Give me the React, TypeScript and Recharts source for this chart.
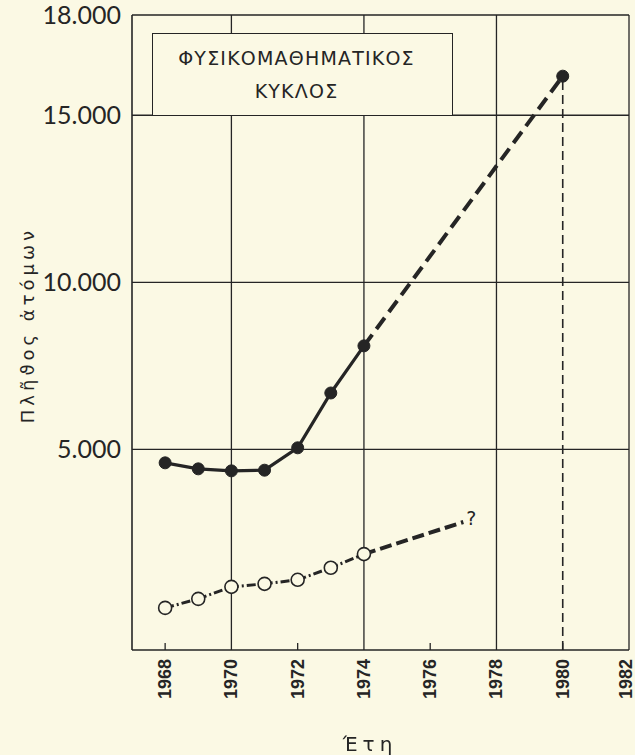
import { ComposedChart, Line, XAxis, YAxis, ReferenceLine } from "recharts";

const years = [1968, 1969, 1970, 1971, 1972, 1973, 1974];
const totalValues = [4600, 4420, 4360, 4380, 5050, 6690, 8100];
const totalForecastYears = [1974, 1980];
const totalForecastValues = [8100, 16170];
const partValues = [260, 530, 890, 980, 1100, 1460, 1870];
const partForecastYears = [1974, 1977];
const partForecastValues = [1870, 2830];

const xTicks = [1968, 1970, 1972, 1974, 1976, 1978, 1980, 1982];
const yTicks = [5000, 10000, 15000, 18000];
const gridX = [1970, 1974, 1978, 1982];
const gridY = [5000, 10000, 15000, 18000];
const minorX = [1968, 1972, 1976, 1980];

const INK = "#252525";
const PAPER = "#fbf9e4";

const toRows = (xs: number[], vs: number[]) => xs.map((year, i) => ({ year, v: vs[i] }));

const totalData = toRows(years, totalValues);
const totalForecast = toRows(totalForecastYears, totalForecastValues);
const partData = toRows(years, partValues);
const partForecast = toRows(partForecastYears, partForecastValues);

function YearTick({ x, y, payload }: any) {
  // last label sits on the right edge, nudge it in a little
  const dx = payload.value === 1982 ? -3 : 0;
  return (
    <text
      transform={`translate(${x + dx},${y}) rotate(-90)`}
      textAnchor="end"
      dominantBaseline="central"
      fontSize={18}
      fontWeight={700}
      fontFamily="'Liberation Sans', Arial, sans-serif"
      fill={INK}
    >
      {payload.value}
    </text>
  );
}

const filledDot = (p: any) => <circle key={p.index} cx={p.cx} cy={p.cy} r={6} fill={INK} stroke={INK} strokeWidth={1} />;
const openDot = (p: any) => <circle key={p.index} cx={p.cx} cy={p.cy} r={6.5} fill={PAPER} stroke={INK} strokeWidth={1.6} />;

export default function App() {
  return (
    <div style={{ position: "fixed", left: 0, top: 0 }}>
      <div style={{ position: "relative", width: 635, height: 755, background: PAPER }}>
        <ComposedChart width={635} height={755} margin={{ top: 15, right: 6, left: 0, bottom: 0 }}>
          <XAxis
            type="number"
            dataKey="year"
            domain={[1967, 1982]}
            ticks={xTicks}
            interval={0}
            height={105}
            tickSize={0}
            tickMargin={9}
            tick={<YearTick />}
            axisLine={{ stroke: INK, strokeWidth: 1.6 }}
            allowDuplicatedCategory={false}
          />
          <YAxis
            type="number"
            domain={[-1000, 18000]}
            ticks={yTicks}
            interval={0}
            width={132}
            tickSize={0}
            tickMargin={11}
            tickFormatter={(v: number) => `${v / 1000}.000`}
            tick={{ fill: INK, fontSize: 25, fontFamily: "Lato, 'Open Sans', sans-serif" }}
            axisLine={{ stroke: INK, strokeWidth: 1.6 }}
          />
          {gridY.map((v) => (
            <ReferenceLine key={`gy${v}`} y={v} stroke={INK} strokeWidth={1.3} />
          ))}
          {gridX.map((v) => (
            <ReferenceLine key={`gx${v}`} x={v} stroke={INK} strokeWidth={1.3} />
          ))}
          {minorX.map((v) => (
            <ReferenceLine
              key={`mx${v}`}
              segment={[
                { x: v, y: -1000 },
                { x: v, y: -790 },
              ]}
              stroke={INK}
              strokeWidth={1.3}
            />
          ))}
          <ReferenceLine
            segment={[
              { x: 1980, y: -1000 },
              { x: 1980, y: 16170 },
            ]}
            stroke={INK}
            strokeWidth={1.6}
            strokeDasharray="9 5"
          />
          <Line
            data={totalForecast}
            dataKey="v"
            stroke={INK}
            strokeWidth={4}
            strokeDasharray="14 7"
            isAnimationActive={false}
            dot={(p: any) => (p.index === totalForecast.length - 1 ? filledDot(p) : <g key={p.index} />)}
          />
          <Line
            data={totalData}
            dataKey="v"
            stroke={INK}
            strokeWidth={3.2}
            isAnimationActive={false}
            dot={filledDot}
          />
          <Line
            data={partForecast}
            dataKey="v"
            stroke={INK}
            strokeWidth={4}
            strokeDasharray="12 5"
            isAnimationActive={false}
            dot={(p: any) =>
              p.index === partForecast.length - 1 ? (
                <text key={p.index} x={p.cx + 3} y={p.cy + 3} fontSize={19} fill={INK} fontFamily="'DejaVu Sans', sans-serif">
                  ?
                </text>
              ) : (
                <g key={p.index} />
              )
            }
          />
          <Line
            data={partData}
            dataKey="v"
            stroke={INK}
            strokeWidth={3}
            strokeDasharray="9 3 2 3"
            isAnimationActive={false}
            dot={openDot}
          />
        </ComposedChart>

        <div
          style={{
            position: "absolute",
            left: 152,
            top: 33,
            width: 301,
            height: 83,
            border: `1.6px solid ${INK}`,
            background: PAPER,
            display: "flex",
            flexDirection: "column",
            alignItems: "center",
            justifyContent: "center",
            gap: 14,
            fontFamily: "'DejaVu Sans', sans-serif",
            fontSize: 19,
            letterSpacing: 1.2,
            color: INK,
            lineHeight: 1,
            paddingRight: 12,
            boxSizing: "border-box",
          }}
        >
          <div>ΦΥΣΙΚΟΜΑΘΗΜΑΤΙΚΟΣ</div>
          <div>ΚΥΚΛΟΣ</div>
        </div>

        <div
          style={{
            position: "absolute",
            left: 27,
            top: 325,
            transform: "translate(-50%, -50%) rotate(-90deg)",
            whiteSpace: "nowrap",
            fontFamily: "'DejaVu Sans', sans-serif",
            fontSize: 18,
            letterSpacing: 4,
            color: INK,
          }}
        >
          Πλῆϑος ἀτόμων
        </div>

        <div
          style={{
            position: "absolute",
            left: 370,
            top: 744,
            transform: "translate(-50%, -50%)",
            whiteSpace: "nowrap",
            fontFamily: "'DejaVu Sans', sans-serif",
            fontSize: 20,
            letterSpacing: 5,
            color: INK,
          }}
        >
          Έτη
        </div>
      </div>
    </div>
  );
}
